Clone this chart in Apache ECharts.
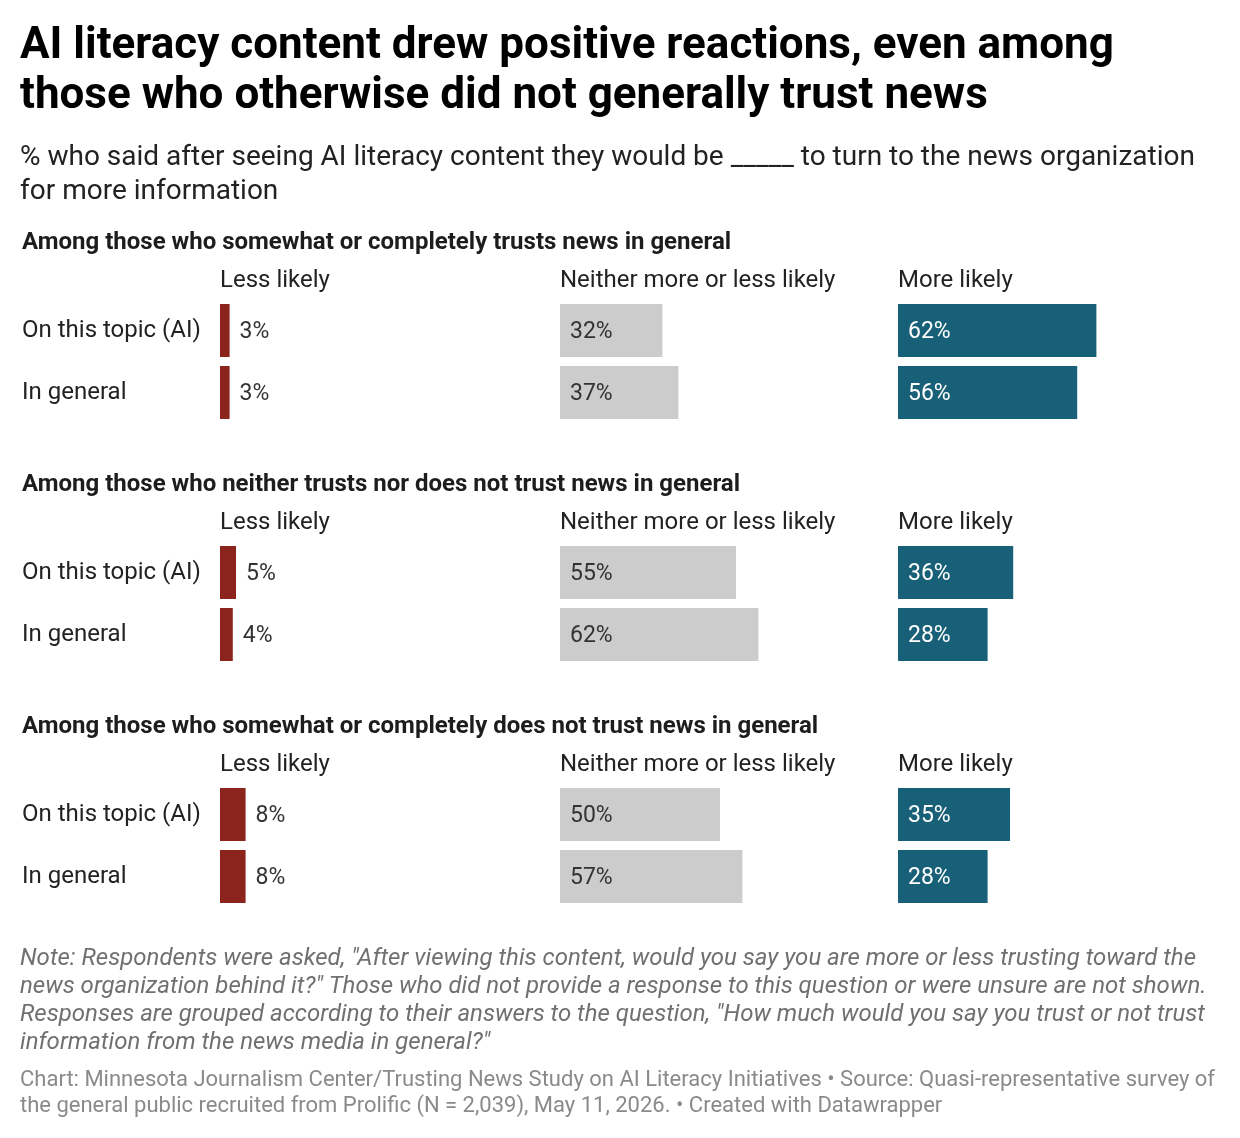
<!DOCTYPE html>
<html>
<head>
<meta charset="utf-8">
<script src="https://cdn.jsdelivr.net/npm/echarts@6/dist/echarts.min.js"></script>
<style>
  html, body { margin: 0; padding: 0; background: #fff; }
  #chart { width: 1240px; height: 1138px; }
</style>
</head>
<body>
<div id="chart"></div>
<script>
var titleLines = [
  'AI literacy content drew positive reactions, even among',
  'those who otherwise did not generally trust news'
];
var subtitleLines = [
  '% who said after seeing AI literacy content they would be _____ to turn to the news organization',
  'for more information'
];
var groups = [
  'Among those who somewhat or completely trusts news in general',
  'Among those who neither trusts nor does not trust news in general',
  'Among those who somewhat or completely does not trust news in general'
];
var rows = ['On this topic (AI)', 'In general'];
var columns = ['Less likely', 'Neither more or less likely', 'More likely'];

// one pair per group: [On this topic (AI), In general]
var lessLikely = [[3, 3], [5, 4], [8, 8]];
var neither = [[32, 37], [55, 62], [50, 57]];
var moreLikely = [[62, 56], [36, 28], [35, 28]];

var noteLines = [
  'Note: Respondents were asked, "After viewing this content, would you say you are more or less trusting toward the',
  'news organization behind it?" Those who did not provide a response to this question or were unsure are not shown.',
  'Responses are grouped according to their answers to the question, "How much would you say you trust or not trust',
  'information from the news media in general?"'
];
var sourceLines = [
  'Chart: Minnesota Journalism Center/Trusting News Study on AI Literacy Initiatives \u2022 Source: Quasi-representative survey of',
  'the general public recruited from Prolific (N = 2,039), May 11, 2026. \u2022 Created with Datawrapper'
];

var FONT = 'Roboto, "Noto Sans", sans-serif';
var colLeft = [220, 560, 898];
var colWidth = 320;
var groupStep = 242;
var colData = [lessLikely, neither, moreLikely];
var colColors = ['#8b241d', '#cccccc', '#176078'];

var chart = echarts.init(document.getElementById('chart'));

var grids = [], xAxes = [], yAxes = [], series = [], graphics = [];

function txt(x, y, text, font, color) {
  graphics.push({
    type: 'text', x: x, y: y,
    style: { text: text, font: font, fill: color, textVerticalAlign: 'middle', textAlign: 'left' }
  });
}

titleLines.forEach(function (t, i) {
  txt(20, 47 + i * 50, t, 'bold 44px ' + FONT, '#000');
});
subtitleLines.forEach(function (t, i) {
  txt(20, 158 + i * 34, t, '28px ' + FONT, '#222');
});

groups.forEach(function (g, gi) {
  var off = gi * groupStep;
  txt(22, 243 + off, g, 'bold 24px ' + FONT, '#1d1d1d');
  columns.forEach(function (c, ci) {
    txt(colLeft[ci], 281 + off, c, '24px ' + FONT, '#222');
    var idx = grids.length;
    grids.push({ left: colLeft[ci], top: 299.5 + off, width: colWidth, height: 124 });
    xAxes.push({ gridIndex: idx, type: 'value', min: 0, max: 100, show: false });
    yAxes.push({
      gridIndex: idx, type: 'category', data: rows, inverse: true,
      axisLine: { show: false }, axisTick: { show: false }, splitLine: { show: false },
      axisLabel: {
        show: ci === 0, align: 'left', margin: 198,
        fontFamily: FONT, fontSize: 24, color: '#222'
      }
    });
    series.push({
      type: 'bar', xAxisIndex: idx, yAxisIndex: idx,
      data: colData[ci][gi], barWidth: 53,
      itemStyle: { color: colColors[ci] },
      silent: true,
      label: {
        show: true,
        position: ci === 0 ? 'right' : 'insideLeft',
        distance: 10,
        offset: [0, 1.5],
        formatter: '{c}%',
        fontFamily: FONT, fontSize: 23,
        color: ci === 2 ? '#fff' : '#333'
      }
    });
  });
});

noteLines.forEach(function (t, i) {
  txt(20, 959 + i * 28, t, 'italic 24px ' + FONT, '#707070');
});
sourceLines.forEach(function (t, i) {
  txt(20, 1080 + i * 26, t, '22px ' + FONT, '#8a8a8a');
});

chart.setOption({
  animation: false,
  grid: grids,
  xAxis: xAxes,
  yAxis: yAxes,
  series: series,
  graphic: graphics
});
</script>
</body>
</html>
